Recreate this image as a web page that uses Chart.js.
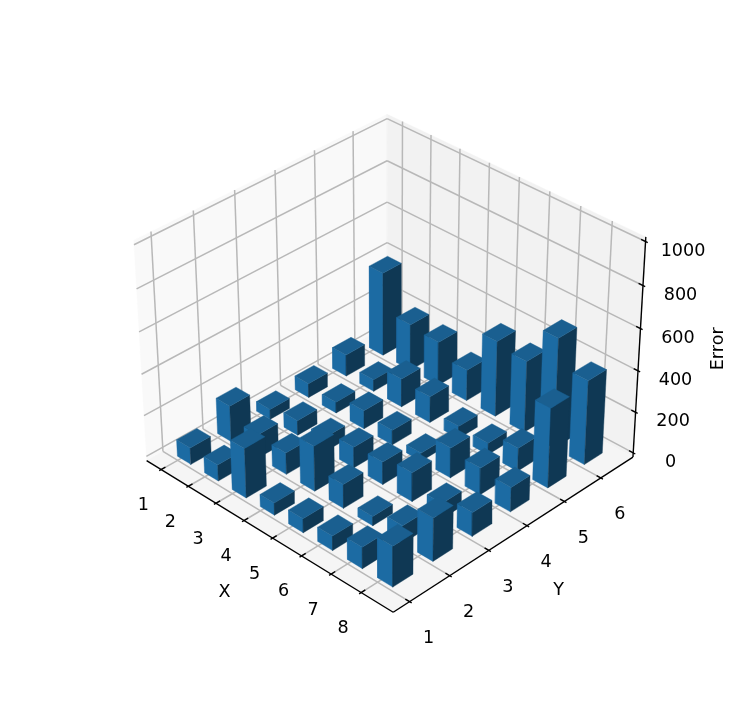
<!DOCTYPE html>
<html>
<head>
<meta charset="utf-8">
<title>Error by X and Y</title>
<script src="https://cdn.jsdelivr.net/npm/chart.js@4"></script>
<style>
  html, body { margin: 0; padding: 0; background: #fff; }
  canvas { display: block; }
</style>
</head>
<body>
<canvas id="myChart" width="747" height="711"></canvas>
<script>
// tick labels
const xTicks = [1, 2, 3, 4, 5, 6, 7, 8];
const yTicks = [1, 2, 3, 4, 5, 6];
const zTicks = [0, 200, 400, 600, 800, 1000];

// error per X, one list per Y
const errorY1 = [81, 79, 240, 59, 68, 70, 103, 195];
const errorY2 = [175, 113, 105, 219, 116, 45, 85, 208];
const errorY3 = [49, 72, 70, 101, 110, 140, 75, 115];
const errorY4 = [69, 54, 90, 72, 40, 146, 130, 119];
const errorY5 = [106, 58, 139, 128, 60, 57, 113, 385];
const errorY6 = [410, 228, 215, 152, 368, 347, 533, 407];
const errorRows = [errorY1, errorY2, errorY3, errorY4, errorY5, errorY6];

// width of a bar along X and Y
const barSize = 0.5;

// view limits, same as the autoscaled 3d axes
const xLim = [0.625, 8.875];
const yLim = [0.725, 6.775];
const zLim = [0, 1000];
const xPane = [xLim[0] - (xLim[1] - xLim[0]) / 48, xLim[1] + (xLim[1] - xLim[0]) / 48];
const yPane = [yLim[0] - (yLim[1] - yLim[0]) / 48, yLim[1] + (yLim[1] - yLim[0]) / 48];
const zPane = [zLim[0] - (zLim[1] - zLim[0]) / 48, zLim[1] + (zLim[1] - zLim[0]) / 48];

// camera
const elev = 33.7 * Math.PI / 180;
const azim = -45.7 * Math.PI / 180;
const camDist = 10;
const scaleK = 2845, centerX = 390, centerY = 351.5;
const boxNorm = 1.8294640721620434 * 25 / 24 / Math.sqrt(41);
const box = [4 * boxNorm, 4 * boxNorm, 3 * boxNorm];

const w = [Math.cos(elev) * Math.cos(azim), Math.cos(elev) * Math.sin(azim), Math.sin(elev)];
const u = [-Math.sin(azim), Math.cos(azim), 0];
const v = [w[1] * u[2] - w[2] * u[1], w[2] * u[0] - w[0] * u[2], w[0] * u[1] - w[1] * u[0]];

// 3d data point -> position on the flat scatter scales
function project(x, y, z) {
  const p = [
    ((x - xLim[0]) / (xLim[1] - xLim[0]) - 0.5) * box[0],
    ((y - yLim[0]) / (yLim[1] - yLim[0]) - 0.5) * box[1],
    ((z - zLim[0]) / (zLim[1] - zLim[0]) - 0.5) * box[2]
  ];
  const depth = camDist - (w[0] * p[0] + w[1] * p[1] + w[2] * p[2]);
  return {
    x: centerX + scaleK * (u[0] * p[0] + u[1] * p[1] + u[2] * p[2]) / depth,
    y: centerY - scaleK * (v[0] * p[0] + v[1] * p[1] + v[2] * p[2]) / depth
  };
}

const datasets = [];

function addShape(corners, color) {
  const pts = corners.map(c => project(c[0], c[1], c[2]));
  pts.push(pts[0]);
  datasets.push({ data: pts, showLine: true, fill: 'shape', backgroundColor: color, borderColor: color, borderWidth: 0.4, pointRadius: 0, tension: 0, clip: false });
}
function addLine(from, to, color, width) {
  const pts = [project(from[0], from[1], from[2]), project(to[0], to[1], to[2])];
  datasets.push({ data: pts, showLine: true, fill: false, borderColor: color, borderWidth: width, pointRadius: 0, tension: 0, clip: false });
}

// panes
const [x0, x1] = xPane, [y0, y1] = yPane, [z0, z1] = zPane;
addShape([[x0, y0, z0], [x0, y1, z0], [x0, y1, z1], [x0, y0, z1]], '#f9f9f9');
addShape([[x0, y1, z0], [x1, y1, z0], [x1, y1, z1], [x0, y1, z1]], '#f2f2f2');
addShape([[x0, y0, z0], [x1, y0, z0], [x1, y1, z0], [x0, y1, z0]], '#f5f5f5');

// grid
const gridColor = '#b8b8b8', gridWidth = 1.5;
xTicks.forEach(x => {
  addLine([x, y0, z0], [x, y1, z0], gridColor, gridWidth);
  addLine([x, y1, z0], [x, y1, z1], gridColor, gridWidth);
});
yTicks.forEach(y => {
  addLine([x1, y, z0], [x0, y, z0], gridColor, gridWidth);
  addLine([x0, y, z0], [x0, y, z1], gridColor, gridWidth);
});
zTicks.forEach(z => {
  addLine([x0, y0, z], [x0, y1, z], gridColor, gridWidth);
  addLine([x0, y1, z], [x1, y1, z], gridColor, gridWidth);
});

// axis lines and tick marks
const axisWidth = 1.4;
addLine([x0, y0, z0], [x1, y0, z0], '#000', axisWidth);
addLine([x1, y0, z0], [x1, y1, z0], '#000', axisWidth);
addLine([x1, y1, z0], [x1, y1, z1], '#000', axisWidth);
const yStep = (yLim[1] - yLim[0]) / 12, xStep = (xLim[1] - xLim[0]) / 12;
xTicks.forEach(x => addLine([x, y0 - 0.1 * yStep, z0], [x, y0 + 0.2 * yStep, z0], '#000', axisWidth));
yTicks.forEach(y => addLine([x1 + 0.1 * xStep, y, z0], [x1 - 0.2 * xStep, y, z0], '#000', axisWidth));
zTicks.forEach(z => addLine([x1 + 0.1 * xStep, y1, z], [x1 - 0.2 * xStep, y1, z], '#000', axisWidth));

// bars, far ones first
const topColor = '#1a5f90', frontColor = '#1c6ba3', sideColor = '#0f3854';
for (let j = yTicks.length - 1; j >= 0; j--) {
  xTicks.forEach((xv, i) => {
    const a = xv, b = xv + barSize, c = yTicks[j], d = yTicks[j] + barSize, h = errorRows[j][i];
    addShape([[a, c, 0], [b, c, 0], [b, c, h], [a, c, h]], frontColor);
    addShape([[b, c, 0], [b, d, 0], [b, d, h], [b, c, h]], sideColor);
    addShape([[a, c, h], [b, c, h], [b, d, h], [a, d, h]], topColor);
  });
}

// tick labels and axis titles
const tickFont = '17.6px "DejaVu Sans"';
const labelsPlugin = {
  id: 'axisLabels',
  afterDatasetsDraw(chart) {
    const ctx = chart.ctx;
    const sx = chart.scales.x, sy = chart.scales.y;
    function put(text, pos, dx, dy, rotate) {
      ctx.save();
      ctx.translate(sx.getPixelForValue(pos.x) + dx, sy.getPixelForValue(pos.y) + dy);
      if (rotate) ctx.rotate(-Math.PI / 2);
      ctx.fillText(text, 0, 0);
      ctx.restore();
    }
    ctx.save();
    ctx.font = tickFont;
    ctx.fillStyle = '#000';
    ctx.textAlign = 'center';
    ctx.textBaseline = 'middle';
    xTicks.forEach(x => put(String(x), project(x, y0, z0), -18, 36));
    yTicks.forEach(y => put(String(y), project(x1, y, z0), 19, 37));
    zTicks.forEach(z => put(String(z), project(x1, y1, z), 37.5, 9.5));
    put('X', project((x0 + x1) / 2, y0, z0), -41, 59);
    put('Y', project(x1, (y0 + y1) / 2, z0), 41, 59);
    put('Error', project(x1, y1, 500), 79, -1, true);
    ctx.restore();
  }
};

// Chart.js paints the first dataset last, so hand them over reversed
datasets.reverse();

new Chart(document.getElementById('myChart').getContext('2d'), {
  type: 'scatter',
  data: { datasets: datasets },
  options: {
    responsive: false,
    animation: false,
    events: [],
    layout: { padding: 0 },
    scales: {
      x: { type: 'linear', min: 0, max: 747, display: false },
      y: { type: 'linear', min: 0, max: 711, reverse: true, display: false }
    },
    plugins: { legend: { display: false }, tooltip: { enabled: false } }
  },
  plugins: [labelsPlugin]
});
</script>
</body>
</html>
